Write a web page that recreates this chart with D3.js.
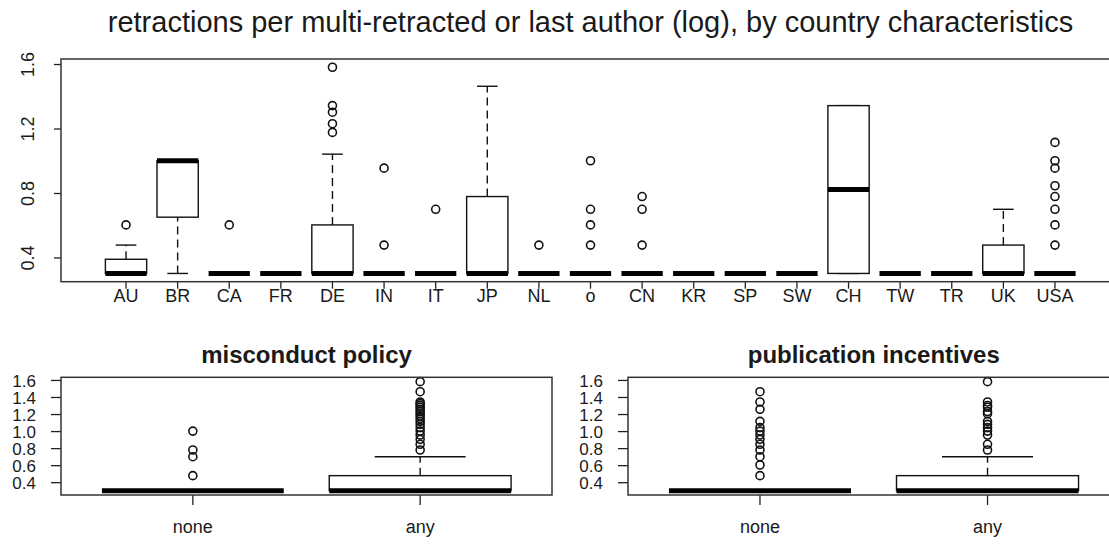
<!DOCTYPE html>
<html>
<head>
<meta charset="utf-8">
<script src="https://d3js.org/d3.v7.min.js"></script>
<style>
  body { margin: 0; background: #fff; }
  text { font-family: "Liberation Sans", Arial, Helvetica, sans-serif; fill: #1a1a1a; }
</style>
</head>
<body>
<div id="chart"></div>
<script>
// all values are log10(retractions per author)
var countries = ["AU","BR","CA","FR","DE","IN","IT","JP","NL","o","CN","KR","SP","SW","CH","TW","TR","UK","USA"];
// [lower whisker, lower hinge, median, upper hinge, upper whisker]
var countryStats = [
  [0.301, 0.301, 0.301, 0.389, 0.477],
  [0.301, 0.650, 1.000, 1.000, 1.000],
  [0.301, 0.301, 0.301, 0.301, 0.301],
  [0.301, 0.301, 0.301, 0.301, 0.301],
  [0.301, 0.301, 0.301, 0.602, 1.041],
  [0.301, 0.301, 0.301, 0.301, 0.301],
  [0.301, 0.301, 0.301, 0.301, 0.301],
  [0.301, 0.301, 0.301, 0.778, 1.462],
  [0.301, 0.301, 0.301, 0.301, 0.301],
  [0.301, 0.301, 0.301, 0.301, 0.301],
  [0.301, 0.301, 0.301, 0.301, 0.301],
  [0.301, 0.301, 0.301, 0.301, 0.301],
  [0.301, 0.301, 0.301, 0.301, 0.301],
  [0.301, 0.301, 0.301, 0.301, 0.301],
  [0.301, 0.301, 0.821, 1.342, 1.342],
  [0.301, 0.301, 0.301, 0.301, 0.301],
  [0.301, 0.301, 0.301, 0.301, 0.301],
  [0.301, 0.301, 0.301, 0.477, 0.699],
  [0.301, 0.301, 0.301, 0.301, 0.301]
];
var countryOutliers = [
  [0.602], [], [0.602], [],
  [1.176, 1.230, 1.301, 1.342, 1.580],
  [0.477, 0.954], [0.699], [], [0.477],
  [0.477, 0.602, 0.699, 1.000],
  [0.477, 0.699, 0.778],
  [], [], [], [], [], [], [],
  [0.477, 0.602, 0.699, 0.778, 0.845, 0.954, 1.000, 1.114]
];

var policyGroups = ["none", "any"];
var misconductStats = [
  [0.301, 0.301, 0.301, 0.301, 0.301],
  [0.301, 0.301, 0.301, 0.477, 0.699]
];
var misconductOutliers = [
  [0.477, 0.699, 0.778, 1.000],
  [0.778, 0.845, 0.903, 0.954, 1.000, 1.041, 1.079, 1.114, 1.146, 1.176, 1.204, 1.230, 1.255, 1.279, 1.301, 1.322, 1.342, 1.462, 1.580]
];
var incentiveStats = [
  [0.301, 0.301, 0.301, 0.301, 0.301],
  [0.301, 0.301, 0.301, 0.477, 0.699]
];
var incentiveOutliers = [
  [0.477, 0.602, 0.699, 0.778, 0.845, 0.903, 0.954, 1.000, 1.041, 1.114, 1.255, 1.342, 1.462],
  [0.778, 0.845, 0.954, 1.000, 1.041, 1.079, 1.114, 1.204, 1.230, 1.279, 1.301, 1.342, 1.580]
];

var topTicks = [0.4, 0.8, 1.2, 1.6];
var bottomTicks = [0.4, 0.6, 0.8, 1.0, 1.2, 1.4, 1.6];

var svg = d3.select("#chart").append("svg")
  .attr("width", 1109)
  .attr("height", 544);

// shared y range like R: data range plus 4% each side
var allVals = d3.merge([d3.merge(countryStats), d3.merge(countryOutliers),
  d3.merge(misconductOutliers), d3.merge(incentiveOutliers)]);
var ext = d3.extent(allVals);
var pad = (ext[1] - ext[0]) * 0.04;
var yDomain = [ext[0] - pad, ext[1] + pad];

function boxPanel(o) {
  var g = svg.append("g");
  var n = o.cats.length;
  var x = d3.scaleBand().domain(o.cats).range([o.left, o.right])
    .paddingInner(0.2).paddingOuter(0.1 + 0.04 * n);
  var y = d3.scaleLinear().domain(yDomain).range([o.bottom, o.top]);
  var bw = x.bandwidth();

  // x axis
  var xa = g.append("g").attr("transform", "translate(0," + o.bottom + ")")
    .call(d3.axisBottom(x).tickSize(o.tick).tickSizeOuter(0));
  xa.select(".domain").remove();
  xa.selectAll("line").attr("stroke", "#222").attr("stroke-width", 1.3);
  xa.selectAll("text").attr("y", o.xLabelY).attr("dy", null)
    .style("font-size", "18px").attr("fill", "#1a1a1a");

  // y axis
  var ya = g.append("g").attr("transform", "translate(" + o.left + ",0)")
    .call(d3.axisLeft(y).tickValues(o.ticks).tickSize(o.tick).tickSizeOuter(0)
      .tickFormat(d3.format(".1f")));
  ya.select(".domain").remove();
  ya.selectAll("line").attr("stroke", "#222").attr("stroke-width", 1.3);
  var yt = ya.selectAll("text").attr("fill", "#1a1a1a");
  if (o.rotateY) {
    yt.style("font-size", "18px").attr("x", 0).attr("y", -27).attr("dy", null)
      .attr("text-anchor", "middle").attr("transform", "rotate(-90)");
  } else {
    yt.style("font-size", "17px").attr("x", -25).attr("dy", "0.36em");
  }

  o.stats.forEach(function (s, i) {
    var x0 = x(o.cats[i]), cx = x0 + bw / 2;
    var bg = g.append("g");
    // whiskers
    [[s[0], s[1]], [s[3], s[4]]].forEach(function (w) {
      if (w[0] !== w[1]) {
        bg.append("line").attr("x1", cx).attr("x2", cx)
          .attr("y1", y(w[0])).attr("y2", y(w[1]))
          .attr("stroke", "#111").attr("stroke-width", 1.4)
          .attr("stroke-dasharray", "8,5");
      }
    });
    [s[0], s[4]].forEach(function (v) {
      bg.append("line").attr("x1", cx - bw / 4).attr("x2", cx + bw / 4)
        .attr("y1", y(v)).attr("y2", y(v))
        .attr("stroke", "#111").attr("stroke-width", 1.4);
    });
    bg.append("rect").attr("x", x0).attr("width", bw)
      .attr("y", y(s[3])).attr("height", y(s[1]) - y(s[3]))
      .attr("fill", "#fff").attr("stroke", "#111").attr("stroke-width", 1.4);
    bg.append("line").attr("x1", x0).attr("x2", x0 + bw)
      .attr("y1", y(s[2])).attr("y2", y(s[2]))
      .attr("stroke", "#000").attr("stroke-width", 5);
    bg.selectAll("circle").data(o.outs[i]).enter().append("circle")
      .attr("cx", cx).attr("cy", function (d) { return y(d); })
      .attr("r", 4).attr("fill", "none")
      .attr("stroke", "#111").attr("stroke-width", 1.6);
  });

  // frame
  g.append("rect").attr("x", o.left).attr("y", o.top)
    .attr("width", o.right - o.left).attr("height", o.bottom - o.top)
    .attr("fill", "none").attr("stroke", "#333").attr("stroke-width", 1.5);

  g.append("text").attr("x", (o.left + o.right) / 2).attr("y", o.titleY)
    .attr("text-anchor", "middle")
    .style("font-size", o.titleSize).style("font-weight", o.bold ? "bold" : "normal")
    .text(o.title);
}

boxPanel({
  cats: countries, stats: countryStats, outs: countryOutliers,
  left: 61, right: 1120, top: 59, bottom: 281.7,
  ticks: topTicks, rotateY: true, tick: 7, xLabelY: 20,
  title: "retractions per multi-retracted or last author (log), by country characteristics",
  titleY: 32, titleSize: "29px", bold: false
});
boxPanel({
  cats: policyGroups, stats: misconductStats, outs: misconductOutliers,
  left: 61, right: 552, top: 377.3, bottom: 495,
  ticks: bottomTicks, rotateY: false, tick: 10, xLabelY: 38,
  title: "misconduct policy", titleY: 363, titleSize: "24px", bold: true
});
boxPanel({
  cats: policyGroups, stats: incentiveStats, outs: incentiveOutliers,
  left: 628, right: 1119.5, top: 377.3, bottom: 495,
  ticks: bottomTicks, rotateY: false, tick: 10, xLabelY: 38,
  title: "publication incentives", titleY: 363, titleSize: "24px", bold: true
});
</script>
</body>
</html>
